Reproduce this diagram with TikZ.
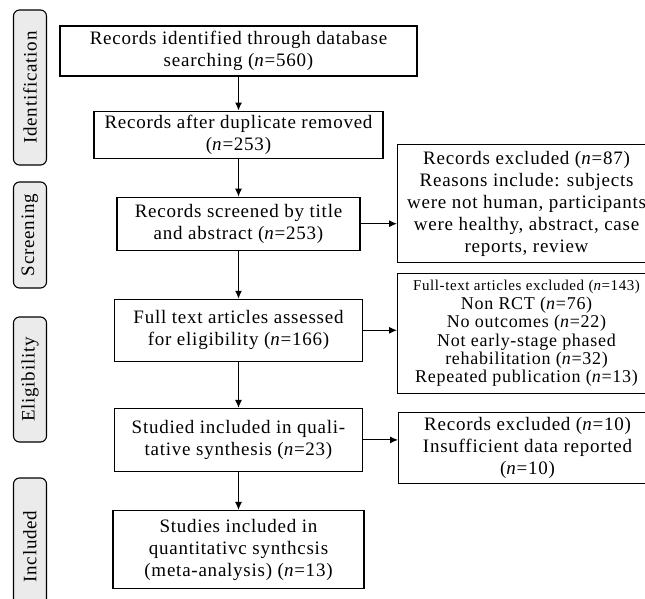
\documentclass[tikz,border=0pt]{standalone}
\usepackage{fontspec}
\setmainfont{Liberation Serif}[LetterSpace=4]
\usetikzlibrary{arrows.meta,positioning}

\begin{document}
\begin{tikzpicture}[>={Latex[length=8pt,width=7pt]}, x=1pt, y=1pt, line width=1.1pt]
        \tikzset{block/.style= {draw, rectangle, align=center, inner sep=2pt, font=\fontsize{19}{22}\selectfont},
            side/.style= {block, anchor=north west, minimum width=258pt},
            stage/.style= {draw, rounded corners=6pt, fill=black!8, rotate=90, minimum height=33pt, font=\fontsize{19}{22}\selectfont},
        }
        \useasboundingbox (0,0) rectangle (645,-599);
        \clip (0,0) rectangle (645,-599);

        \node [stage, minimum width=155pt] (Sident) at (30,-87.5) {Identification};
        \node [stage, minimum width=106pt] (Sscreen) at (30,-235) {Screening};
        \node [stage, minimum width=125pt] (Selig) at (30,-379.5) {Eligibility};
        \node [stage, minimum width=137pt] (Sincl) at (30,-546.5) {Included};

        \node [block, minimum width=357pt, minimum height=50pt] (ident) at (238.5,-51) {Records identified through database\\searching (\textit{n}=560)};
        \node [block, below = 34pt of ident, minimum width=289pt, minimum height=47pt] (dup) {Records after duplicate removed\\(\textit{n}=253)};
        \node [block, below = 38pt of dup, minimum width=243pt, minimum height=53pt] (screen) {Records screened by title\\and abstract (\textit{n}=253)};
        \node [block, below = 48pt of screen, minimum width=248pt, minimum height=62pt] (full) {Full text articles assessed\\for eligibility (\textit{n}=166)};
        \node [block, below = 46pt of full, minimum width=248pt, minimum height=63pt] (qual) {Studied included in quali-\\tative synthesis (\textit{n}=23)};
        \node [block, below = 38pt of qual, minimum width=251pt, minimum height=78pt] (quant) {Studies included in\\quantitativc synthcsis\\(meta-analysis) (\textit{n}=13)};

        \node [side, minimum height=118pt] (excl1) at (397,-144) {Records excluded (\textit{n}=87)\\Reasons include: subjects\\were not human, participants\\were healthy, abstract, case\\reports, review};
        \node [side, minimum height=120pt, font=\fontsize{18}{18.4}\selectfont] (excl2) at (397,-273) {{\fontsize{15}{18.4}\selectfont Full-text articles excluded (\textit{n}=143)}\\Non RCT (\textit{n}=76)\\No outcomes (\textit{n}=22)\\Not early-stage phased\\rehabilitation (\textit{n}=32)\\Repeated publication (\textit{n}=13)};
        \node [side, minimum height=71pt] (excl3) at (398,-412) {Records excluded (\textit{n}=10)\\Insufficient data reported\\(\textit{n}=10)};

        \draw[->] (ident) -- (dup);
        \draw[->] (dup) -- (screen);
        \draw[->] (screen) -- (full);
        \draw[->] (full) -- (qual);
        \draw[->] (qual) -- (quant);

        \draw[->] (screen.east) -- (screen.east -| excl1.west);
        \draw[->] (full.east) -- (full.east -| excl2.west);
        \draw[->] (qual.east) -- (qual.east -| excl3.west);
    \end{tikzpicture}
\end{document}
